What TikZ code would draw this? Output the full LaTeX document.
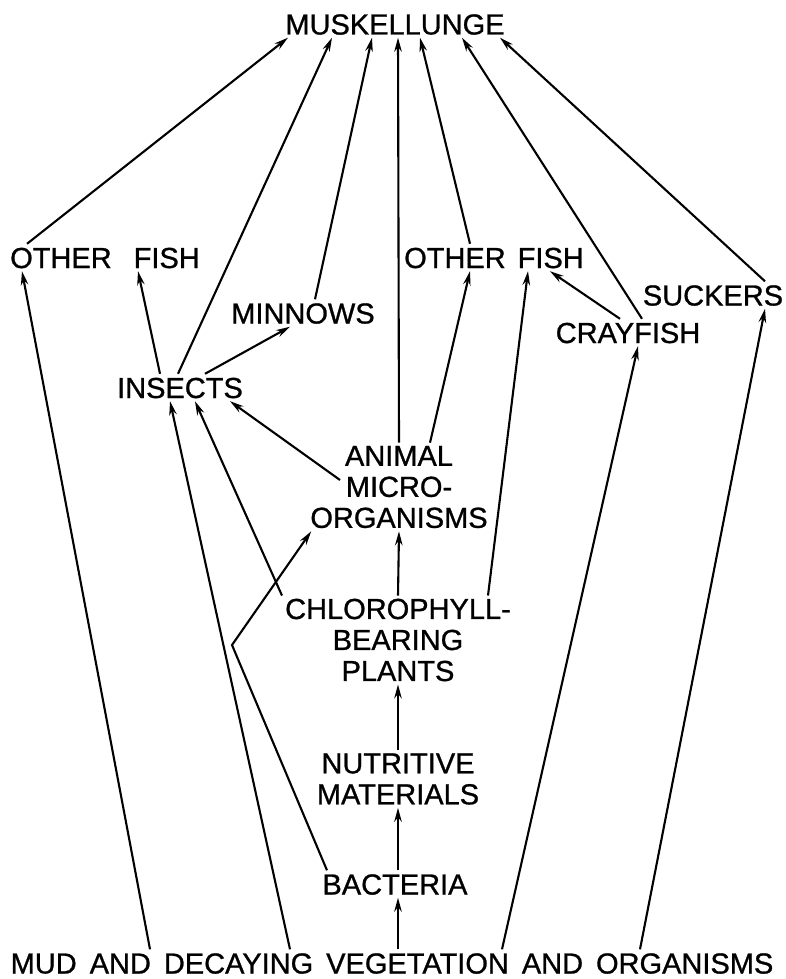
\documentclass[tikz,border=0pt]{standalone}
\usepackage{fontspec}
\setmainfont{Liberation Sans}[FakeBold=0.9]
\usetikzlibrary{arrows.meta,calc}
\tikzset{
  foodlabel/.style={font=\fontsize{29}{31}\selectfont,inner sep=3pt,align=center},
  oneline/.style={foodlabel,text height=21pt,text depth=0pt},
  feedarrow/.style={-{Stealth[length=14pt,width=7.5pt]},line width=2.1pt}
}

\begin{document}
\begin{tikzpicture}[x=1pt,y=-1pt]
  \useasboundingbox (0,0) rectangle (785,979);
  % top of the chain
  \node[oneline] (muskie) at (395,24) {MUSKELLUNGE};
  % fishes and crayfish
  \node[oneline] (fishL) at (105,257.5) {OTHER\hspace{22pt}FISH};
  \node[oneline] (fishM) at (494,257.5) {OTHER\hspace{12pt}FISH};
  \node[oneline] (suckers) at (713,295) {SUCKERS};
  \node[oneline] (minnows) at (303,313) {MINNOWS};
  \node[oneline] (crayfish) at (628,332.5) {CRAYFISH};
  \node[oneline] (insects) at (180,387.5) {INSECTS};
  % small things and plants
  \node[foodlabel] (animalmicro) at (399,487) {ANIMAL\\MICRO-\\ORGANISMS};
  \node[foodlabel] (plants) at (398,640) {CHLOROPHYLL-\\BEARING\\PLANTS};
  \node[foodlabel] (nutrients) at (398,779) {NUTRITIVE\\MATERIALS};
  \node[oneline] (bacteria) at (395,884) {BACTERIA};
  \node[oneline] (mud) at (392,963) {\spaceskip=13pt\relax MUD AND DECAYING VEGETATION AND ORGANISMS};
  \coordinate (kink) at (232,645);

  % into the muskellunge
  \draw[feedarrow] ([xshift=-78pt]fishL.north) -- ([xshift=-107pt]muskie.south);
  \draw[feedarrow] ([xshift=-2pt]insects.north) -- ([xshift=-63pt]muskie.south);
  \draw[feedarrow] ([xshift=12pt]minnows.north) -- ([xshift=-23pt]muskie.south);
  \draw[feedarrow] (animalmicro.north) -- ([xshift=3pt]muskie.south);
  \draw[feedarrow] ([xshift=-24pt]fishM.north) -- ([xshift=25pt]muskie.south);
  \draw[feedarrow] ([xshift=14pt]crayfish.north) -- ([xshift=67pt]muskie.south);
  \draw[feedarrow] ([xshift=52pt]suckers.north) -- ([xshift=105pt]muskie.south);

  % middle layer
  \draw[feedarrow] ([xshift=-8pt]crayfish.north) -- ([xshift=56pt]fishM.south);
  \draw[feedarrow] ([xshift=-20pt]insects.north) -- ([xshift=33pt]fishL.south);
  \draw[feedarrow] ([xshift=25pt]insects.north) -- ([xshift=-13pt]minnows.south);
  \draw[feedarrow] ([xshift=31pt]animalmicro.north) -- ([xshift=-24pt]fishM.south);
  \draw[feedarrow] ([shift={(-59pt,7pt)}]animalmicro.center) -- ([xshift=50pt]insects.south);

  % plants
  \draw[feedarrow] (plants.north) -- (animalmicro.south);
  \draw[feedarrow] (plants.north west) -- ([xshift=15pt]insects.south);
  \draw[feedarrow] ([xshift=90pt]plants.north) -- ([xshift=34pt]fishM.south);

  % lower chain
  \draw[feedarrow] (nutrients.north) -- (plants.south);
  \draw[feedarrow] ([xshift=3pt]bacteria.north) -- (nutrients.south);
  \draw[feedarrow] ([xshift=-68pt]bacteria.north) -- (kink) -- ([xshift=4pt]animalmicro.south west);

  % from the mud
  \draw[feedarrow] ([xshift=-242pt]mud.north) -- ([xshift=-83pt]fishL.south);
  \draw[feedarrow] ([xshift=-102pt]mud.north) -- ([xshift=-10pt]insects.south);
  \draw[feedarrow] ([xshift=6pt]mud.north) -- ([xshift=3pt]bacteria.south);
  \draw[feedarrow] ([xshift=110pt]mud.north) -- ([xshift=10pt]crayfish.south);
  \draw[feedarrow] ([xshift=248pt]mud.north) -- ([xshift=52pt]suckers.south);
\end{tikzpicture}
\end{document}
